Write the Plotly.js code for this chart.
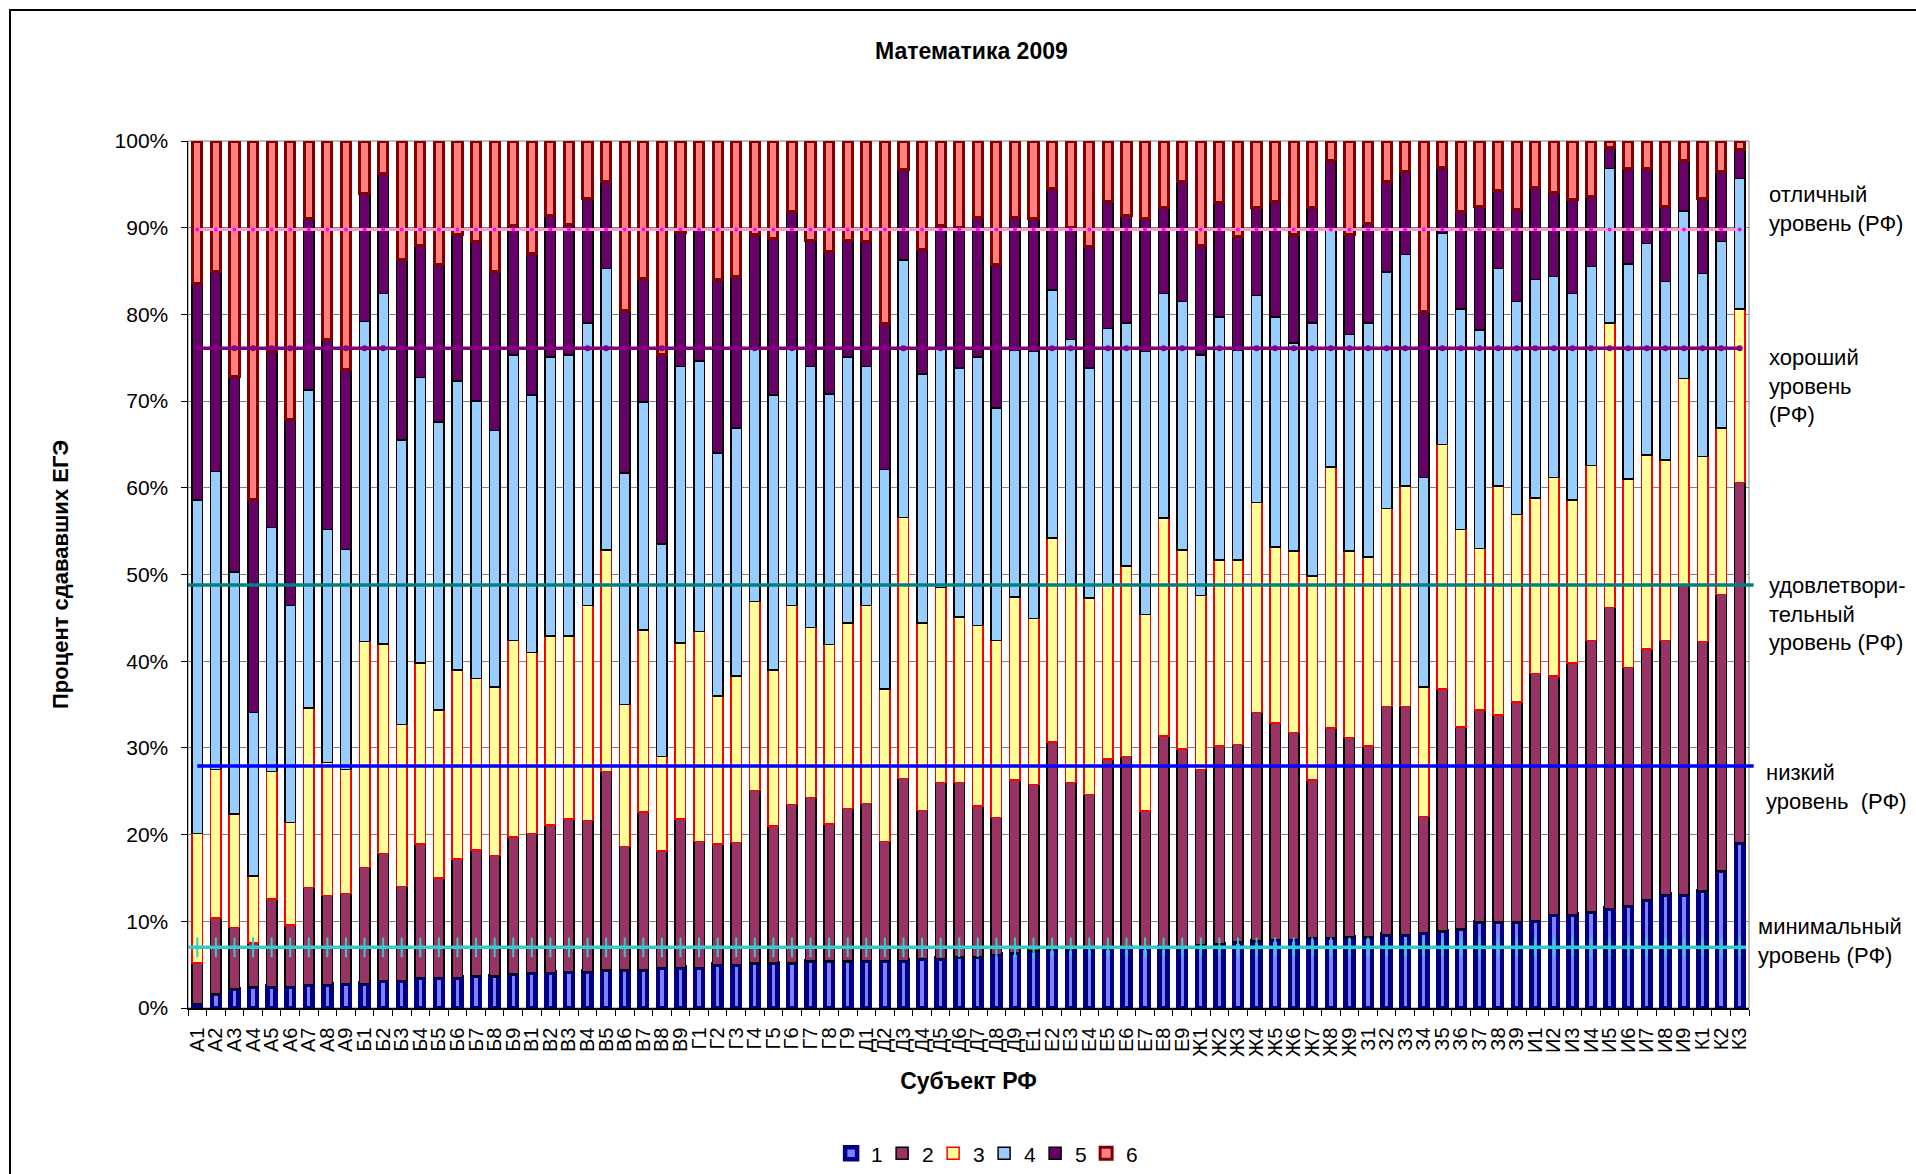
<!DOCTYPE html>
<html>
<head>
<meta charset="utf-8">
<script src="https://cdn.plot.ly/plotly-3.0.1.min.js"></script>
<style>
  html, body { margin: 0; padding: 0; background: #fff; overflow: hidden; }
  #chart { width: 1916px; height: 1174px; }
  #frame { position: absolute; left: 9px; top: 9px; width: 3000px; height: 3000px;
           border-top: 2px solid #000; border-left: 2px solid #000; pointer-events: none; }
</style>
</head>
<body>
<div id="chart"></div>
<div id="frame"></div>
<script>
// Categories (субъекты РФ)
const categories = [
  "А1","А2","А3","А4","А5","А6","А7","А8","А9",
  "Б1","Б2","Б3","Б4","Б5","Б6","Б7","Б8","Б9",
  "В1","В2","В3","В4","В5","В6","В7","В8","В9",
  "Г1","Г2","Г3","Г4","Г5","Г6","Г7","Г8","Г9",
  "Д1","Д2","Д3","Д4","Д5","Д6","Д7","Д8","Д9",
  "Е1","Е2","Е3","Е4","Е5","Е6","Е7","Е8","Е9",
  "Ж1","Ж2","Ж3","Ж4","Ж5","Ж6","Ж7","Ж8","Ж9",
  "З1","З2","З3","З4","З5","З6","З7","З8","З9",
  "И1","И2","И3","И4","И5","И6","И7","И8","И9",
  "К1","К2","К3"
];

// Series values (% of examinees per score group)
const s1 = [0.5,1.6,2.2,2.4,2.5,2.5,2.7,2.7,2.8, 2.8,3.2,3.2,3.5,3.5,3.5,3.7,3.7,3.9,
  4.1,4.1,4.2,4.2,4.4,4.4,4.4,4.7,4.7, 4.7,5.0,5.0,5.2,5.2,5.2,5.4,5.4,5.4,
  5.5,5.5,5.5,5.7,5.7,5.9,5.9,6.2,6.4, 6.6,6.8,6.8,6.9,7.0,7.0,7.0,7.0,7.1,
  7.3,7.4,7.6,7.7,7.9,7.9,8.1,8.1,8.2, 8.2,8.5,8.5,8.7,8.9,9.1,9.9,9.9,9.9,
  10.1,10.8,10.8,11.1,11.5,11.8,12.5,13.1,13.1, 13.5,15.8,19.1];
const s2 = [4.7,8.8,7.1,5.1,10.1,7.1,11.2,10.3,10.4, 13.4,14.6,10.8,15.4,11.5,13.7,14.5,13.9,15.8,
  16.0,17.0,17.6,17.4,22.9,14.2,18.2,13.4,17.1, 14.5,13.9,14.1,19.9,15.8,18.3,18.9,15.8,17.6,
  18.1,13.7,21.0,17.1,20.3,20.1,17.4,15.8,19.9, 19.2,23.9,19.2,17.7,21.7,22.0,15.7,24.4,22.8,
  20.2,22.8,22.8,26.4,25.0,23.9,18.2,24.2,23.0, 22.0,26.3,26.3,13.4,27.9,23.3,24.5,23.9,25.4,
  28.5,27.5,29.0,31.3,34.7,27.5,28.9,29.3,35.7, 28.8,31.9,41.5];
const s3 = [14.9,17.1,13.1,7.7,14.7,11.8,20.7,15.3,14.3, 26.1,24.2,18.7,20.9,19.4,21.8,19.8,19.4,22.7,
  20.9,21.8,21.1,24.8,25.5,16.4,21.0,10.9,20.3, 24.2,17.1,19.2,21.8,18.0,22.9,19.6,20.7,21.4,
  22.8,17.6,30.1,21.6,22.5,19.1,20.8,20.4,21.1, 19.1,23.5,22.8,22.7,20.1,22.0,22.7,25.1,22.9,
  20.1,21.5,21.3,24.2,20.3,20.9,23.5,30.1,21.5, 21.8,22.8,25.4,14.9,28.2,22.8,18.6,26.4,21.6,
  20.2,22.9,18.8,20.2,32.8,21.7,22.4,20.8,23.8, 21.3,19.2,20.0];
const s4 = [38.5,34.4,27.9,18.9,28.1,25.0,36.7,26.9,25.4, 36.9,40.4,32.8,32.9,33.2,33.3,32.0,29.6,32.9,
  29.7,32.2,32.4,32.6,32.5,26.7,26.3,24.5,31.9, 31.2,28.0,28.6,29.4,31.7,29.6,30.1,28.9,30.7,
  27.6,25.3,29.7,28.7,27.5,28.7,31.0,26.8,28.5, 30.8,28.6,28.3,26.5,29.6,28.0,30.3,25.9,28.7,
  27.7,28.0,24.2,23.9,26.5,24.0,29.2,27.4,25.0, 27.0,27.3,26.7,24.2,24.4,25.4,25.2,25.1,24.6,
  25.2,23.2,23.8,22.9,17.8,24.8,24.4,20.6,19.3, 21.1,21.5,15.1];
const s5 = [25.0,23.0,22.5,24.5,20.3,21.5,19.8,21.9,20.7, 14.7,13.9,20.8,15.3,18.1,16.9,18.4,18.3,15.0,
  16.3,16.3,15.1,14.4,10.0,18.7,14.2,21.9,15.4, 15.2,20.0,17.5,12.9,18.0,15.9,14.5,16.4,13.4,
  14.4,16.8,10.4,14.4,14.3,16.2,16.1,16.5,15.3, 15.4,11.7,12.9,14.0,14.6,12.4,15.4,9.9,13.8,
  12.7,13.2,13.1,10.1,13.3,12.5,13.3,8.0,11.5, 11.5,10.4,9.6,19.1,7.6,11.3,14.2,9.0,10.6,
  10.6,9.7,10.8,8.1,2.5,11.0,8.6,8.6,5.9, 8.7,8.1,3.3];
const s6 = [16.4,15.1,27.2,41.4,24.3,32.1,8.9,22.9,26.4, 6.1,3.7,13.7,12.0,14.3,10.8,11.6,15.1,9.7,
  13.0,8.6,9.6,6.6,4.7,19.6,15.9,24.6,10.6, 10.2,16.0,15.6,10.8,11.3,8.1,11.5,12.8,11.5,
  11.6,21.1,3.3,12.5,9.7,10.0,8.8,14.3,8.8, 8.9,5.5,10.0,12.2,7.0,8.6,8.9,7.7,4.7,
  12.0,7.1,11.0,7.7,7.0,10.8,7.7,2.2,10.8, 9.5,4.7,3.5,19.7,3.0,8.1,7.6,5.7,7.9,
  5.4,5.9,6.8,6.4,0.7,3.2,3.2,7.6,2.2, 6.6,3.5,1.0];

const seriesNames = ["1","2","3","4","5","6"];

// Russian-Federation reference levels (%)
const levelNames = ["отличный<br>уровень (РФ)", "хороший<br>уровень<br>(РФ)",
  "удовлетвори-<br>тельный<br>уровень (РФ)", "низкий<br>уровень  (РФ)", "минимальный<br>уровень (РФ)"];
const levelValues = [89.8, 76.1, 48.8, 27.9, 7.0];
const levelLabelY = [92.1, 71.7, 45.4, 25.5, 7.7];

const seriesData = [s1, s2, s3, s4, s5, s6];
const fills   = ["#8080FF", "#993366", "#FFFF99", "#99CCFF", "#660066", "#FF8080"];
const borders = ["#000080", "#000000", "#FF0000", "#000000", "#000000", "#800000"];
const bwidths = [4.5, 1.5, 1.5, 1.5, 1.5, 3];
const barW    = [0.42, 0.565, 0.565, 0.565, 0.565, 0.49];

const traces = seriesData.map((vals, i) => ({
  type: "bar",
  name: seriesNames[i],
  x: categories,
  y: vals,
  width: categories.map(() => barW[i]),
  marker: { color: fills[i], line: { color: borders[i], width: bwidths[i] } },
  hoverinfo: "x+y+name"
}));

// level lines: pink & purple as line+marker traces; cyan markers as trace
const lineStyles = [
  { color: "#FF99CC", width: 3, marker: { symbol: "circle", size: 4, color: "#FF00FF" }, mode: "lines+markers" },
  { color: "#800080", width: 3.5, marker: { symbol: "circle", size: 6, color: "#800080" }, mode: "lines+markers" },
  null,
  null,
  { color: "#33CCCC", width: 3.5, marker: { symbol: "line-ns", size: 14, line: { color: "#33CCCC", width: 2 } }, mode: "markers" }
];

levelValues.forEach((v, i) => {
  const st = lineStyles[i];
  if (!st) return;
  traces.push({
    type: "scatter",
    mode: st.mode,
    x: categories,
    y: categories.map(() => v),
    line: { color: st.color, width: st.width },
    marker: st.marker,
    showlegend: false,
    hoverinfo: "y"
  });
});

// long level lines drawn across the plot width
const half = 0.5 / categories.length;
const levelShapes = [
  { i: 2, color: "#008080", x0: 0, x1: 1.003 },
  { i: 3, color: "#0000FF", x0: half, x1: 1.003 },
  { i: 4, color: "#33CCCC", x0: 0, x1: 1 - half * 0.3 }
].map(d => ({
  type: "line", xref: "paper", yref: "y",
  x0: d.x0, x1: d.x1, y0: levelValues[d.i], y1: levelValues[d.i],
  line: { color: d.color, width: 3.5 }, layer: "above"
}));

const FONT = "Liberation Sans, Arial, sans-serif";

const annotations = levelNames.map((txt, i) => ({
  xref: "paper", yref: "y",
  x: i === 4 ? 1.0045 : (i === 3 ? 1.0095 : 1.0115),
  y: levelLabelY[i],
  xanchor: "left", yanchor: "middle", align: "left",
  text: txt, showarrow: false,
  font: { family: FONT, size: 22, color: "#000" }
}));

const layout = {
  width: 1916, height: 1174,
  margin: { l: 188, r: 167, t: 141, b: 166, pad: 0, autoexpand: false },
  paper_bgcolor: "rgba(0,0,0,0)",
  plot_bgcolor: "#FFFFFF",
  barmode: "stack",
  bargap: 0.435,
  font: { family: FONT, size: 19, color: "#000" },
  title: {
    text: "<b>Математика 2009</b>",
    font: { family: FONT, size: 23, color: "#000" },
    x: 0.507, xanchor: "center", y: 0.957, yanchor: "middle"
  },
  xaxis: {
    type: "category",
    range: [-0.5, categories.length - 0.5],
    tickmode: "linear", dtick: 1,
    tickangle: -90,
    tickfont: { family: FONT, size: 20, color: "#000" },
    ticks: "outside", ticklen: 6, tickcolor: "#000", tickwidth: 1,
    ticklabelstandoff: 10,
    tickson: "boundaries",
    showline: true, linecolor: "#000", linewidth: 1.5,
    showgrid: false, zeroline: false,
    automargin: false,
    title: { text: "<b>Субъект РФ</b>", font: { family: FONT, size: 23, color: "#000" }, standoff: 17 }
  },
  yaxis: {
    range: [0, 100],
    dtick: 10,
    ticksuffix: "%",
    tickfont: { family: FONT, size: 21, color: "#000" },
    ticks: "outside", ticklen: 6, tickcolor: "#000", tickwidth: 1,
    ticklabelstandoff: 8,
    showline: true, linecolor: "#000", linewidth: 1.5,
    showgrid: true, gridcolor: "#808080", gridwidth: 1,
    zeroline: false,
    automargin: false,
    title: { text: "<b>Процент сдававших ЕГЭ</b>", font: { family: FONT, size: 22, color: "#000" }, standoff: 40 }
  },
  legend: {
    orientation: "h",
    x: 0.51, xanchor: "center",
    y: -0.168, yanchor: "middle",
    traceorder: "normal",
    itemwidth: 30,
    entrywidth: 6, entrywidthmode: "pixels",
    font: { family: FONT, size: 21, color: "#000" }
  },
  shapes: [
    { type: "rect", xref: "paper", yref: "paper", x0: 0, x1: 1, y0: 0, y1: 1,
      line: { color: "#808080", width: 1 }, layer: "below" }
  ].concat(levelShapes),
  annotations: annotations,
  showlegend: true
};

Plotly.newPlot("chart", traces, layout, { displayModeBar: false, staticPlot: true });
</script>
</body>
</html>
